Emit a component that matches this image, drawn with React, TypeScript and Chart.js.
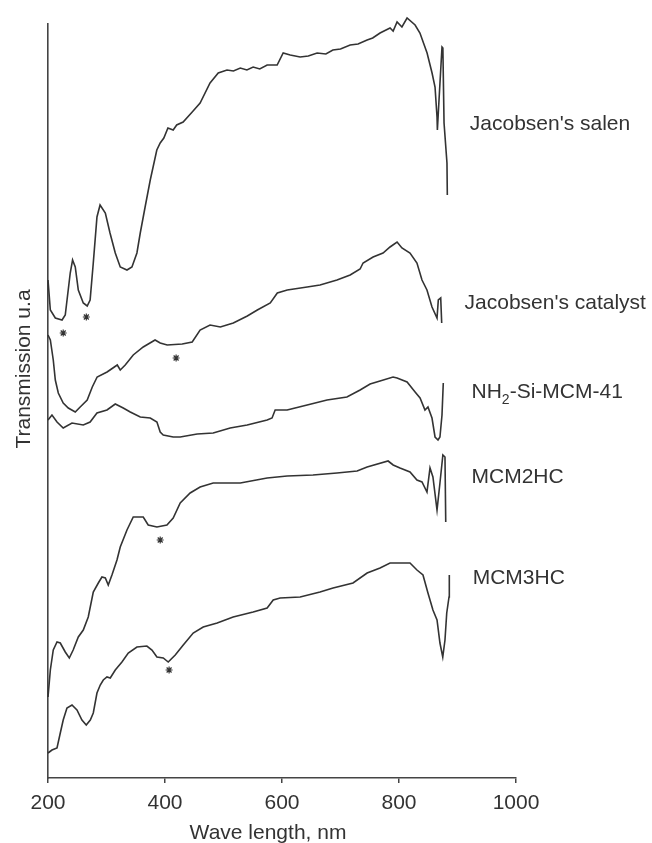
import React, { useEffect, useRef } from "react";
import { Chart, registerables } from "chart.js";

Chart.register(...registerables);

// ---- axis ----
const xMin = 200;
const xMax = 1000;
const xStep = 200;
const yMin = 0;
const yMax = 754;
const xAxisTitle = "Wave length, nm";
const yAxisTitle = "Transmission u.a";

// ---- series: wavelength (nm) and transmission (arbitrary units) ----
const salenNm = [200, 204, 212.5, 224, 229.5, 238, 242, 246.6, 251.8, 260.3, 267, 272, 277.4, 283.7, 289, 298, 306, 315, 323.5, 335, 343.5, 352, 357.7, 366, 374.8, 386, 391.8, 398, 405, 414, 420, 431, 446.5, 460, 477, 491, 506, 517, 528.7, 540, 550.7, 562, 574.6, 591.7, 602, 614, 631, 645, 660, 675, 687, 700, 716.5, 730, 745.5, 755, 767.6, 784.7, 790, 796.7, 805, 813.8, 827.5, 835.8, 848, 856.5, 861.6, 865, 865.6, 868.4, 873.5, 875, 877, 882, 882.6];
const salenT = [498, 468, 460, 458, 463, 505, 518, 511, 488, 475, 472, 478, 515, 561, 573, 565, 545, 525, 511, 508, 511, 525, 545, 571, 598, 628, 635, 640, 650, 648, 653, 656, 666, 675, 695, 705, 708, 707, 710, 708, 711, 709, 713, 713, 725, 723, 721, 722, 725, 724, 728, 729, 733, 734, 738, 740, 745, 750, 747, 756, 751, 760, 753, 745, 725, 705, 691, 661, 648, 678, 731, 730, 655, 615, 583];

const catalystNm = [200, 204, 209, 212.5, 217.6, 226, 234.7, 246.6, 255, 267, 275.7, 284, 301, 318.4, 323.5, 332, 345.7, 362.8, 383, 391.8, 403.7, 429.4, 446.5, 460, 477, 494.6, 516.8, 540.7, 557.8, 580, 592, 609, 643, 665, 694, 716.5, 733.5, 738.6, 755.7, 772.7, 784.7, 796.7, 805, 818.8, 830.7, 839.3, 847.8, 856.4, 865, 867.2, 871.3, 873];
const catalystT = [443, 438, 418, 398, 385, 375, 370, 366, 371, 378, 391, 401, 406, 413, 408, 413, 423, 431, 438, 435, 433, 434, 436, 448, 453, 451, 455, 462, 468, 475, 485, 488, 491, 493, 498, 503, 509, 515, 521, 525, 531, 536, 530, 525, 515, 498, 488, 471, 460, 478, 480, 455];

const nh2Nm = [200, 206.8, 215.4, 226, 241, 260.3, 272, 283.7, 300.8, 315, 328.6, 340.6, 357.7, 374.8, 386.2, 391.8, 397, 414, 426, 455, 482.4, 511.4, 540.5, 574.6, 583, 588.3, 608.8, 643, 677, 711, 733.5, 750.6, 767.6, 789.8, 796.7, 813.8, 827.5, 836, 844.4, 849.5, 856.4, 861.6, 866.7, 870, 873.5, 875.7];
const nh2T = [358, 363, 356, 350, 355, 353, 356, 365, 368, 374, 370, 366, 361, 360, 356, 346, 343, 341, 341, 344, 345, 350, 353, 358, 360, 368, 368, 373, 378, 381, 388, 394, 397, 401, 400, 396, 386, 380, 368, 371, 360, 341, 338, 341, 363, 395];

const mcm2Nm = [200, 204, 209, 215.4, 221, 229.5, 236.4, 243, 251.8, 260.3, 268.8, 277.4, 286, 292.2, 298, 303, 309.3, 317.9, 323.5, 335, 345.7, 362.8, 371.3, 386.2, 403.3, 414, 426, 443, 460, 482.4, 528.7, 574.6, 608.8, 653, 694, 728.4, 745.5, 781.4, 790, 801.7, 818.8, 830.7, 839.3, 847.8, 853, 858, 865, 870, 875, 878.6, 879.9];
const mcm2T = [81, 108, 128, 136, 135, 126, 120, 128, 141, 148, 161, 186, 195, 201, 200, 193, 203, 218, 231, 248, 261, 261, 253, 251, 253, 260, 275, 285, 291, 295, 295, 300, 302, 303, 305, 307, 311, 317, 313, 310, 306, 298, 296, 286, 310, 301, 268, 295, 323, 321, 256];

const mcm3Nm = [200, 206.8, 215.4, 221, 226, 232.4, 241, 249.5, 258, 265.4, 272.3, 277.4, 283.7, 289.3, 294.5, 300.8, 306.4, 315, 326.4, 337.2, 352, 369, 377.7, 386.2, 397, 405.5, 417.5, 431.2, 448.2, 465.3, 489.2, 516.5, 550.7, 574.6, 585, 596.8, 631, 665, 687.3, 721.4, 745.5, 767.6, 784.7, 818.8, 830.7, 841, 849.5, 858, 865, 870, 874.8, 878.6, 881.6, 885.5, 886];
const mcm3T = [25, 28, 30, 45, 58, 70, 73, 68, 58, 53, 58, 65, 85, 93, 98, 101, 100, 108, 116, 125, 131, 132, 128, 121, 120, 116, 123, 133, 145, 151, 155, 161, 166, 170, 178, 180, 181, 186, 190, 195, 205, 210, 215, 215, 208, 203, 185, 168, 158, 135, 121, 138, 165, 181, 203];

// ---- asterisk markers ----
const starNm = [226, 265.5, 419, 391.8, 407];
const starT = [445, 461, 420, 238, 108];

// ---- series labels ----
const seriesNames = ["Jacobsen's salen", "Jacobsen's catalyst", "NH2-Si-MCM-41", "MCM2HC", "MCM3HC"];
const labelAnchorNm = [921, 912, 924, 924, 926];
const labelAnchorT = [654, 475, 386, 301, 200];

const FONT = "'Liberation Sans', Arial, sans-serif";
const INK = "#333333";

const toXY = (xs: number[], ys: number[]) => xs.map((x, i) => ({ x, y: ys[i] }));

const textPlugin = {
  id: "textPlugin",
  afterDraw(chart: any) {
    const { ctx, scales, chartArea } = chart;
    const xs = scales.x;
    const ys = scales.y;
    ctx.save();
    ctx.fillStyle = INK;
    ctx.font = `21px ${FONT}`;
    ctx.textBaseline = "middle";
    ctx.textAlign = "left";
    seriesNames.forEach((name, i) => {
      const px = xs.getPixelForValue(labelAnchorNm[i]);
      const py = ys.getPixelForValue(labelAnchorT[i]);
      const m = name.match(/^(NH)(2)(.*)$/);
      if (m) {
        ctx.font = `21px ${FONT}`;
        ctx.fillText(m[1], px, py);
        const w1 = ctx.measureText(m[1]).width;
        ctx.font = `14px ${FONT}`;
        ctx.fillText(m[2], px + w1, py + 8);
        const w2 = ctx.measureText(m[2]).width;
        ctx.font = `21px ${FONT}`;
        ctx.fillText(m[3], px + w1 + w2, py);
      } else {
        ctx.fillText(name, px, py);
      }
    });
    // x axis title
    ctx.font = `21px ${FONT}`;
    ctx.textAlign = "center";
    ctx.fillText(xAxisTitle, (chartArea.left + chartArea.right) / 2 - 14, chartArea.bottom + 55);
    // y axis title
    ctx.translate(chartArea.left - 24, (chartArea.top + chartArea.bottom) / 2 - 32);
    ctx.rotate(-Math.PI / 2);
    ctx.fillText(yAxisTitle, 0, 0);
    ctx.restore();
  },
};

export default function App() {
  const canvasRef = useRef<HTMLCanvasElement | null>(null);

  useEffect(() => {
    const canvas = canvasRef.current;
    if (!canvas) return;
    const line = (data: number[], ys: number[]) => ({
      type: "line" as const,
      data: toXY(data, ys),
      borderColor: INK,
      borderWidth: 1.6,
      pointRadius: 0,
      tension: 0,
      fill: false,
      clip: false as any,
    });
    const chart = new Chart(canvas, {
      type: "line",
      data: {
        datasets: [
          { ...line(salenNm, salenT), label: seriesNames[0] },
          { ...line(catalystNm, catalystT), label: seriesNames[1] },
          { ...line(nh2Nm, nh2T), label: seriesNames[2] },
          { ...line(mcm2Nm, mcm2T), label: seriesNames[3] },
          { ...line(mcm3Nm, mcm3T), label: seriesNames[4] },
          {
            type: "scatter" as const,
            label: "marked bands",
            data: toXY(starNm, starT),
            pointStyle: "star",
            pointRadius: 3.5,
            borderWidth: 1.2,
            borderColor: INK,
            backgroundColor: INK,
          } as any,
        ],
      },
      options: {
        animation: false,
        responsive: true,
        maintainAspectRatio: false,
        layout: { padding: { left: 8, right: 136, top: 24, bottom: 0 } },
        plugins: { legend: { display: false }, tooltip: { enabled: false } },
        scales: {
          x: {
            type: "linear",
            min: xMin,
            max: xMax,
            afterFit: (s: any) => {
              s.height = 65;
            },
            ticks: {
              stepSize: xStep,
              color: INK,
              padding: 8,
              font: { family: FONT, size: 21 },
              callback: (v: any) => String(v),
            },
            grid: {
              display: true,
              drawOnChartArea: false,
              drawTicks: true,
              tickLength: 5,
              color: "#444",
              lineWidth: 1.5,
            },
            border: { display: true, color: "#444", width: 1.6 },
          },
          y: {
            type: "linear",
            min: yMin,
            max: yMax,
            afterFit: (s: any) => {
              s.width = 40;
            },
            ticks: { display: false },
            grid: { display: false },
            border: { display: true, color: "#444", width: 1.6 },
          },
        },
      },
      plugins: [textPlugin],
    });
    return () => chart.destroy();
  }, []);

  return (
    <div style={{ position: "absolute", left: 0, top: 0, width: 652, height: 843, background: "#fff" }}>
      <canvas ref={canvasRef} />
    </div>
  );
}
